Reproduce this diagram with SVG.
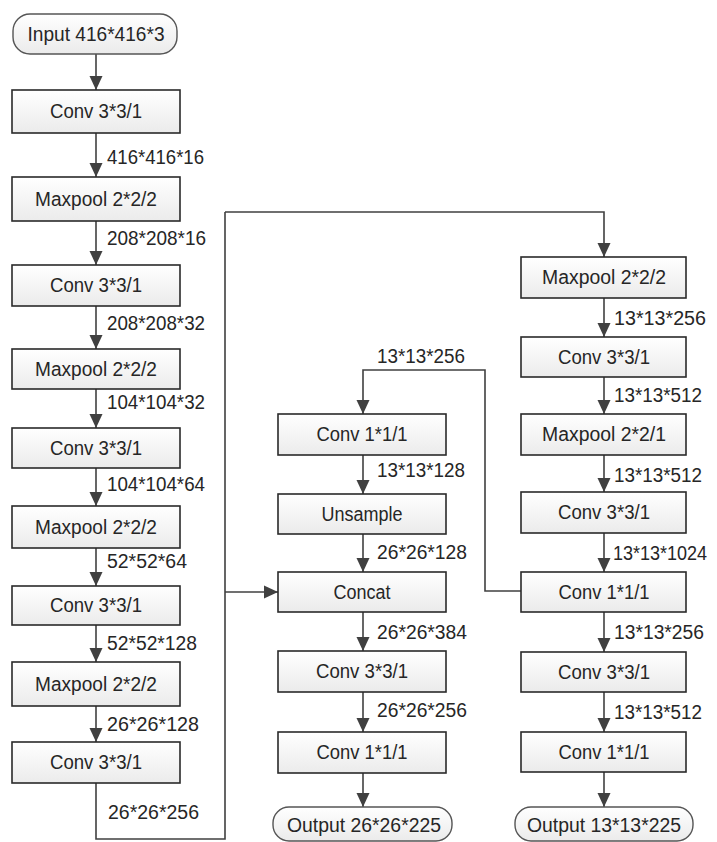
<svg xmlns="http://www.w3.org/2000/svg" width="717" height="842" viewBox="0 0 717 842">
  <defs>
    <linearGradient id="boxFill" x1="0" y1="0" x2="0" y2="1">
      <stop offset="0" stop-color="#ffffff"/>
      <stop offset="1" stop-color="#ebebeb"/>
    </linearGradient>
    <marker id="arrow" viewBox="0 0 14 14" refX="14" refY="7" markerWidth="14" markerHeight="14" markerUnits="userSpaceOnUse" orient="auto">
      <path d="M0,0.5 L14,7 L0,13.5 Z" fill="#404040"/>
    </marker>
    <style>
      .box { fill: url(#boxFill); stroke: #2a2a2a; stroke-width: 1.6; }
      .term { fill: url(#boxFill); stroke: #555555; stroke-width: 1.4; }
      .lbl { font-family: "Liberation Sans", Arial, sans-serif; font-size: 20px; fill: #262626; text-anchor: middle; }
      .dim { font-family: "Liberation Sans", Arial, sans-serif; font-size: 20px; fill: #262626; }
      .edge { fill: none; stroke: #404040; stroke-width: 1.6; }
      .edge.arr { marker-end: url(#arrow); }
    </style>
  </defs>
  <rect width="717" height="842" fill="#ffffff"/>

  <!-- connectors -->
  <g id="connectors">
    <!-- backbone column -->
    <path class="edge arr" d="M96,54 V90"/>
    <path class="edge arr" d="M96,133 V177"/>
    <path class="edge arr" d="M96,221 V265"/>
    <path class="edge arr" d="M96,306 V349"/>
    <path class="edge arr" d="M96,389 V428"/>
    <path class="edge arr" d="M96,468 V506"/>
    <path class="edge arr" d="M96,548 V586"/>
    <path class="edge arr" d="M96,625 V662"/>
    <path class="edge arr" d="M96,706 V742"/>
    <!-- route from last conv to the deep branch and the concat -->
    <path class="edge" d="M96,783 V839 H225 V212"/>
    <path class="edge arr" d="M225,212 H604 V257"/>
    <path class="edge arr" d="M225,592 H278"/>
    <!-- deep branch column -->
    <path class="edge arr" d="M604,298 V337"/>
    <path class="edge arr" d="M604,377 V414"/>
    <path class="edge arr" d="M604,455 V492"/>
    <path class="edge arr" d="M604,533 V572"/>
    <path class="edge arr" d="M604,612 V652"/>
    <path class="edge arr" d="M604,692 V732"/>
    <path class="edge arr" d="M604,772 V807"/>
    <!-- upsampling path -->
    <path class="edge arr" d="M521,591 H485 V370 H363 V414"/>
    <path class="edge arr" d="M363,455 V494"/>
    <path class="edge arr" d="M363,534 V572"/>
    <path class="edge arr" d="M363,612 V651"/>
    <path class="edge arr" d="M363,692 V732"/>
    <path class="edge arr" d="M363,773 V807"/>
  </g>

  <!-- tensor sizes -->
  <g id="sizes">
    <text class="dim" x="107" y="164" textLength="97" lengthAdjust="spacingAndGlyphs">416*416*16</text>
    <text class="dim" x="107" y="245" textLength="99" lengthAdjust="spacingAndGlyphs">208*208*16</text>
    <text class="dim" x="107" y="330" textLength="98" lengthAdjust="spacingAndGlyphs">208*208*32</text>
    <text class="dim" x="107" y="409" textLength="98" lengthAdjust="spacingAndGlyphs">104*104*32</text>
    <text class="dim" x="107" y="491" textLength="98" lengthAdjust="spacingAndGlyphs">104*104*64</text>
    <text class="dim" x="107" y="568" textLength="80" lengthAdjust="spacingAndGlyphs">52*52*64</text>
    <text class="dim" x="107" y="650" textLength="90" lengthAdjust="spacingAndGlyphs">52*52*128</text>
    <text class="dim" x="107" y="731" textLength="92" lengthAdjust="spacingAndGlyphs">26*26*128</text>
    <text class="dim" x="108" y="819" textLength="91" lengthAdjust="spacingAndGlyphs">26*26*256</text>

    <text class="dim" x="377" y="363" textLength="88" lengthAdjust="spacingAndGlyphs">13*13*256</text>
    <text class="dim" x="377" y="477" textLength="88" lengthAdjust="spacingAndGlyphs">13*13*128</text>
    <text class="dim" x="377" y="559" textLength="90" lengthAdjust="spacingAndGlyphs">26*26*128</text>
    <text class="dim" x="377" y="639" textLength="90" lengthAdjust="spacingAndGlyphs">26*26*384</text>
    <text class="dim" x="377" y="717" textLength="90" lengthAdjust="spacingAndGlyphs">26*26*256</text>

    <text class="dim" x="614" y="325" textLength="92" lengthAdjust="spacingAndGlyphs">13*13*256</text>
    <text class="dim" x="614" y="402" textLength="88" lengthAdjust="spacingAndGlyphs">13*13*512</text>
    <text class="dim" x="614" y="482" textLength="88" lengthAdjust="spacingAndGlyphs">13*13*512</text>
    <text class="dim" x="613" y="560" textLength="94" lengthAdjust="spacingAndGlyphs">13*13*1024</text>
    <text class="dim" x="614" y="639" textLength="90" lengthAdjust="spacingAndGlyphs">13*13*256</text>
    <text class="dim" x="614" y="719" textLength="88" lengthAdjust="spacingAndGlyphs">13*13*512</text>
  </g>

  <!-- backbone -->
  <g id="input">
    <rect class="term" x="13" y="14" width="164" height="40" rx="17"/>
    <text class="lbl" x="96" y="41" textLength="137" lengthAdjust="spacingAndGlyphs">Input 416*416*3</text>
  </g>
  <g id="conv1">
    <rect class="box" x="12" y="90" width="168" height="43"/>
    <text class="lbl" x="96" y="118" textLength="92" lengthAdjust="spacingAndGlyphs">Conv 3*3/1</text>
  </g>
  <g id="maxpool1">
    <rect class="box" x="12" y="177" width="168" height="44"/>
    <text class="lbl" x="96" y="206" textLength="122" lengthAdjust="spacingAndGlyphs">Maxpool 2*2/2</text>
  </g>
  <g id="conv2">
    <rect class="box" x="12" y="265" width="168" height="41"/>
    <text class="lbl" x="96" y="292" textLength="92" lengthAdjust="spacingAndGlyphs">Conv 3*3/1</text>
  </g>
  <g id="maxpool2">
    <rect class="box" x="12" y="349" width="168" height="40"/>
    <text class="lbl" x="96" y="376" textLength="122" lengthAdjust="spacingAndGlyphs">Maxpool 2*2/2</text>
  </g>
  <g id="conv3">
    <rect class="box" x="12" y="428" width="168" height="40"/>
    <text class="lbl" x="96" y="455" textLength="92" lengthAdjust="spacingAndGlyphs">Conv 3*3/1</text>
  </g>
  <g id="maxpool3">
    <rect class="box" x="12" y="506" width="168" height="42"/>
    <text class="lbl" x="96" y="534" textLength="122" lengthAdjust="spacingAndGlyphs">Maxpool 2*2/2</text>
  </g>
  <g id="conv4">
    <rect class="box" x="12" y="586" width="168" height="39"/>
    <text class="lbl" x="96" y="612" textLength="92" lengthAdjust="spacingAndGlyphs">Conv 3*3/1</text>
  </g>
  <g id="maxpool4">
    <rect class="box" x="12" y="662" width="168" height="44"/>
    <text class="lbl" x="96" y="691" textLength="122" lengthAdjust="spacingAndGlyphs">Maxpool 2*2/2</text>
  </g>
  <g id="conv5">
    <rect class="box" x="12" y="742" width="168" height="41"/>
    <text class="lbl" x="96" y="769" textLength="92" lengthAdjust="spacingAndGlyphs">Conv 3*3/1</text>
  </g>

  <!-- upsampling branch -->
  <g id="conv1x1-up">
    <rect class="box" x="278" y="414" width="168" height="41"/>
    <text class="lbl" x="362" y="441" textLength="91" lengthAdjust="spacingAndGlyphs">Conv 1*1/1</text>
  </g>
  <g id="upsample">
    <rect class="box" x="278" y="494" width="168" height="40"/>
    <text class="lbl" x="362" y="521" textLength="81" lengthAdjust="spacingAndGlyphs">Unsample</text>
  </g>
  <g id="concat">
    <rect class="box" x="278" y="572" width="168" height="40"/>
    <text class="lbl" x="362" y="599" textLength="57" lengthAdjust="spacingAndGlyphs">Concat</text>
  </g>
  <g id="conv3x3-mid">
    <rect class="box" x="278" y="651" width="168" height="41"/>
    <text class="lbl" x="362" y="678" textLength="92" lengthAdjust="spacingAndGlyphs">Conv 3*3/1</text>
  </g>
  <g id="conv1x1-mid">
    <rect class="box" x="278" y="732" width="168" height="41"/>
    <text class="lbl" x="362" y="759" textLength="91" lengthAdjust="spacingAndGlyphs">Conv 1*1/1</text>
  </g>
  <g id="output26">
    <rect class="term" x="273" y="807" width="179" height="34" rx="16"/>
    <text class="lbl" x="364" y="832" textLength="154" lengthAdjust="spacingAndGlyphs">Output 26*26*225</text>
  </g>

  <!-- deep branch -->
  <g id="maxpool5">
    <rect class="box" x="521" y="257" width="165" height="41"/>
    <text class="lbl" x="604" y="284" textLength="124" lengthAdjust="spacingAndGlyphs">Maxpool 2*2/2</text>
  </g>
  <g id="conv6">
    <rect class="box" x="521" y="337" width="165" height="40"/>
    <text class="lbl" x="604" y="364" textLength="92" lengthAdjust="spacingAndGlyphs">Conv 3*3/1</text>
  </g>
  <g id="maxpool6">
    <rect class="box" x="521" y="414" width="165" height="41"/>
    <text class="lbl" x="604" y="441" textLength="124" lengthAdjust="spacingAndGlyphs">Maxpool 2*2/1</text>
  </g>
  <g id="conv7">
    <rect class="box" x="521" y="492" width="165" height="41"/>
    <text class="lbl" x="604" y="519" textLength="92" lengthAdjust="spacingAndGlyphs">Conv 3*3/1</text>
  </g>
  <g id="conv8">
    <rect class="box" x="521" y="572" width="165" height="40"/>
    <text class="lbl" x="604" y="599" textLength="91" lengthAdjust="spacingAndGlyphs">Conv 1*1/1</text>
  </g>
  <g id="conv9">
    <rect class="box" x="521" y="652" width="165" height="40"/>
    <text class="lbl" x="604" y="679" textLength="92" lengthAdjust="spacingAndGlyphs">Conv 3*3/1</text>
  </g>
  <g id="conv10">
    <rect class="box" x="521" y="732" width="165" height="40"/>
    <text class="lbl" x="604" y="759" textLength="91" lengthAdjust="spacingAndGlyphs">Conv 1*1/1</text>
  </g>
  <g id="output13">
    <rect class="term" x="515" y="807" width="178" height="34" rx="16"/>
    <text class="lbl" x="604" y="832" textLength="154" lengthAdjust="spacingAndGlyphs">Output 13*13*225</text>
  </g>
</svg>
